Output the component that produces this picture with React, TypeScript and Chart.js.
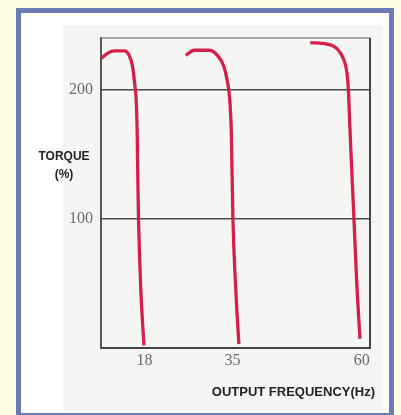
import React, { useEffect, useRef } from "react";
import { Chart, registerables } from "chart.js";

Chart.register(...registerables);

// Output frequency (Hz) vs torque (%) for three base frequencies
const curve18: [number, number][] = [
  [9.6, 224], [11.0, 228.5], [12.2, 230], [14.1, 230], [15.0, 227], [15.7, 218],
  [16.1, 205], [16.4, 192], [16.6, 166], [16.72, 130], [16.85, 100], [17.3, 45], [17.9, 2],
];
const curve35: [number, number][] = [
  [26.0, 226.6], [27.6, 230.5], [30.5, 230.5], [32.1, 226.6], [33.4, 217.6], [34.0, 207],
  [34.5, 191.7], [34.8, 166], [35.1, 100], [35.6, 49.6], [36.25, 3],
];
const curve60: [number, number][] = [
  [50.05, 236.5], [53.3, 235.3], [55.2, 231.8], [56.45, 224], [57.15, 213], [57.42, 200],
  [57.75, 167], [58.5, 100], [59.05, 49.6], [59.67, 7],
];
const xTickValues = [18, 35, 60];
const yTickValues = [100, 200];
const xTitle = "OUTPUT FREQUENCY(Hz)";
const yTitleLines = ["TORQUE", "(%)"];

const W = 401;
const H = 415;

export default function App() {
  const ref = useRef<HTMLCanvasElement | null>(null);

  useEffect(() => {
    if (!ref.current) return;
    const toPts = (c: [number, number][]) => c.map(([x, y]) => ({ x, y }));
    const lineStyle = {
      borderColor: "#d3214b",
      borderWidth: 3.3,
      pointRadius: 0,
      cubicInterpolationMode: "monotone" as const,
      fill: false,
    };

    const framePlugin = {
      id: "frame",
      beforeDatasetsDraw(chart: any) {
        const { ctx, chartArea: a } = chart;
        ctx.save();
        ctx.strokeStyle = "#8a8a8a";
        ctx.lineWidth = 1.5;
        ctx.beginPath();
        ctx.moveTo(a.left, a.top);
        ctx.lineTo(a.right, a.top);
        ctx.stroke();
        ctx.strokeStyle = "#444";
        ctx.lineWidth = 2;
        ctx.beginPath();
        ctx.moveTo(a.right, a.top);
        ctx.lineTo(a.right, a.bottom);
        ctx.stroke();
        ctx.restore();
      },
      afterDraw(chart: any) {
        const { ctx, chartArea: a } = chart;
        ctx.save();
        ctx.fillStyle = "#222";
        ctx.textBaseline = "middle";
        ctx.font = "bold 13px 'Liberation Sans', Arial, sans-serif";
        ctx.textAlign = "right";
        ctx.fillText(xTitle, a.right + 5, 392);
        ctx.font = "bold 12px 'Liberation Sans', Arial, sans-serif";
        ctx.textAlign = "center";
        ctx.fillText(yTitleLines[0], 64, 157);
        ctx.fillText(yTitleLines[1], 64, 175);
        ctx.restore();
      },
    };

    const chart = new Chart(ref.current, {
      type: "line",
      data: {
        datasets: [
          { data: toPts(curve18), ...lineStyle },
          { data: toPts(curve35), ...lineStyle },
          { data: toPts(curve60), ...lineStyle },
        ],
      },
      options: {
        animation: false,
        responsive: false,
        events: [],
        layout: { padding: { left: 0, top: 38, right: 31, bottom: 0 } },
        plugins: { legend: { display: false }, tooltip: { enabled: false } },
        scales: {
          x: {
            type: "linear",
            min: 9.6,
            max: 61.6,
            afterBuildTicks: (s: any) => {
              s.ticks = xTickValues.map((v) => ({ value: v }));
            },
            afterFit: (s: any) => {
              s.height = 67;
            },
            grid: { display: false, drawTicks: false },
            border: { display: true, color: "#444", width: 2 },
            ticks: {
              padding: 3,
              color: "#6a6a6a",
              font: { family: "'Liberation Serif', serif", size: 16 },
              callback: (v: any) => String(v),
            },
          },
          y: {
            type: "linear",
            min: 0,
            max: 240,
            afterBuildTicks: (s: any) => {
              s.ticks = yTickValues.map((v) => ({ value: v }));
            },
            afterFit: (s: any) => {
              s.width = 101;
            },
            grid: { color: "#4a4a4a", lineWidth: 1.5, drawTicks: false },
            border: { display: true, color: "#555", width: 2 },
            ticks: {
              padding: 8,
              color: "#6a6a6a",
              font: { family: "'Liberation Serif', serif", size: 16 },
              callback: (v: any) => String(v),
            },
          },
        },
      },
      plugins: [framePlugin],
    });
    return () => chart.destroy();
  }, []);

  return (
    <div
      style={{
        position: "absolute",
        left: 0,
        top: 0,
        width: W,
        height: H,
        background: "#fdfde3",
        overflow: "hidden",
      }}
    >
      <div
        style={{
          position: "absolute",
          left: 16,
          top: 8,
          width: 378,
          height: 410,
          boxSizing: "border-box",
          border: "5px solid #6b7bb8",
          background: "#ffffff",
        }}
      />
      <div
        style={{
          position: "absolute",
          left: 63,
          top: 25,
          width: 320,
          height: 386,
          background: "#f5f5f3",
        }}
      />
      <canvas
        ref={ref}
        width={W}
        height={H}
        style={{ position: "absolute", left: 0, top: 0, width: W, height: H }}
      />
    </div>
  );
}
